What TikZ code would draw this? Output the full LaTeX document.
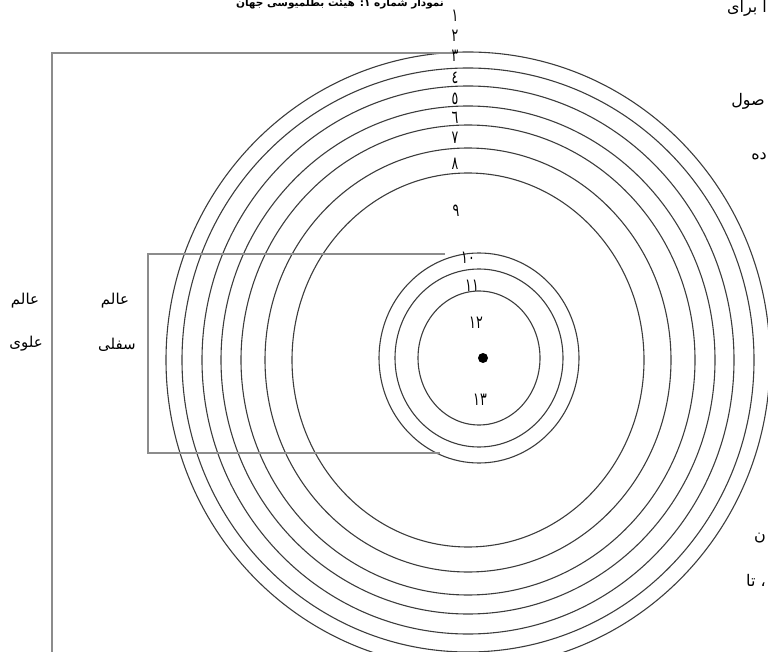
\documentclass[tikz,border=0pt]{standalone}
\usepackage{fontspec}
\usepackage{tikz}
\newfontfamily\arabicfont[Script=Arabic]{DejaVu Sans}
\newfontfamily\digitfont{DejaVu Sans}
\TeXXeTstate=1
\definecolor{orbitgray}{RGB}{60, 60, 60}
\definecolor{framegray}{RGB}{140, 140, 140}

\begin{document}
\begin{tikzpicture}[x=1pt, y=-1pt,
    orbit/.style={orbitgray, line width=1.1pt},
    frame/.style={framegray, line width=1.2pt},
    numlabel/.style={inner sep=0pt, font=\digitfont\fontsize{18}{18}\selectfont, xscale=0.7},
    worldlabel/.style={inner sep=0pt, font=\arabicfont\fontsize{15}{15}\selectfont},
    pagetext/.style={inner sep=0pt, anchor=east, font=\arabicfont\fontsize{16}{16}\selectfont}]
  \useasboundingbox (0,0) rectangle (768,652);
  \coordinate (outer) at (468,360);
  \coordinate (inner) at (479,358);
  % outer spheres
  \foreach \rx/\ry in {176/187,203/212,227/235,247/254,266/274,286/292,302/308} {
    \draw[orbit] (outer) ellipse [x radius=\rx, y radius=\ry];
  }
  % sublunar spheres
  \foreach \rx/\ry in {100/105,84/89,61/67} {
    \draw[orbit] (inner) ellipse [x radius=\rx, y radius=\ry];
  }
  \fill[black] (483,358) circle (5);
  % brackets
  \draw[frame] (52,652) -- (52,53) -- (455,53);
  \draw[frame] (445,254) -- (148,254) -- (148,453) -- (440,453);
  % sphere numbers
  \foreach \lab/\xpos/\ypos [count=\i] in {١/455/16, ٢/455/36, ٣/455/56, ٤/455/78, ٥/455/99, ٦/455/118, ٧/455/138, ٨/455/164, ٩/456/211, ١٠/468/258, ١١/472/286, ١٢/476/323, ١٣/480/400} {
    \node[numlabel] (n\i) at (\xpos,\ypos) {\lab};
  }
  \node[inner sep=0pt, font=\arabicfont\bfseries\fontsize{10.5}{10.5}\selectfont] (title) at (340,4) {\beginR نمودار شماره ۱: هیئت بطلمیوسی جهان\endR};
  \node[worldlabel] (upper1) at (25,301) {\beginR عالم\endR};
  \node[worldlabel] (upper2) at (26,344) {\beginR علوی\endR};
  \node[worldlabel] (lower1) at (115,301) {\beginR عالم\endR};
  \node[worldlabel] (lower2) at (117,345) {\beginR سفلی\endR};
  % text of the page beside the figure
  \node[pagetext] (side1) at (767,8) {\beginR ا برای\endR};
  \node[pagetext] (side2) at (765,101) {\beginR صول\endR};
  \node[pagetext] (side3) at (767,156) {\beginR ده\endR};
  \node[pagetext] (side4) at (766,538) {\beginR ن\endR};
  \node[pagetext] (side5) at (766,580) {\beginR ، تا\endR};
\end{tikzpicture}
\end{document}
